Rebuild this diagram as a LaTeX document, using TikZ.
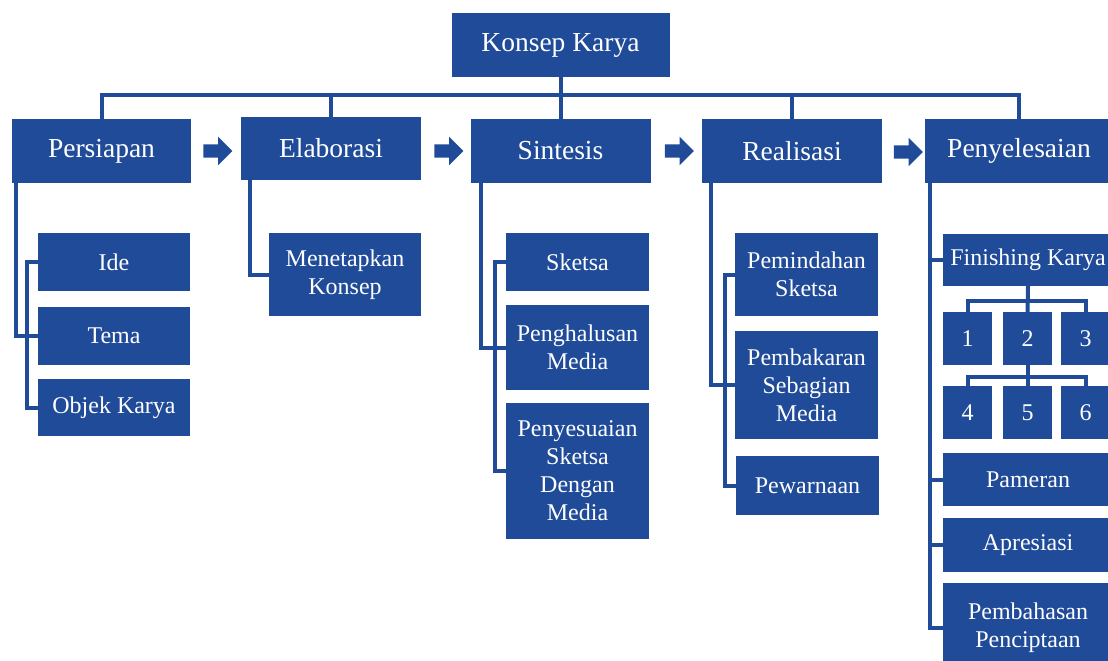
\documentclass[tikz,border=0pt]{standalone}
\usepackage{fontspec}
\setmainfont{Liberation Serif}
\usetikzlibrary{shapes.arrows}
\definecolor{boxblue}{HTML}{1F4B99}
\tikzset{
  box/.style={fill=boxblue, text=white, inner sep=0pt, align=center,
    font=\fontsize{24}{28}\selectfont},
  topbox/.style={box, font=\fontsize{27.5}{32}\selectfont},
  conn/.style={draw=boxblue, line width=4pt},
  flowarrow/.style={single arrow, fill=boxblue, inner sep=6.5pt,
    minimum height=29pt, minimum width=28pt, single arrow head extend=7.5pt},
}
\begin{document}
\begin{tikzpicture}[x=1pt,y=-1pt]
\useasboundingbox (0,0) rectangle (1108,661);
\clip (0,0) rectangle (1108,661);
% top level
\node[topbox, minimum width=218pt, minimum height=64pt] (konsep) at (560.5,45) {Konsep Karya};
\node[topbox, minimum width=179pt, minimum height=64pt] (persiapan) at (101.5,151) {Persiapan};
\node[topbox, minimum width=180pt, minimum height=63pt] (elaborasi) at (331,148.5) {Elaborasi};
\node[topbox, minimum width=180pt, minimum height=64pt] (sintesis) at (560.5,151) {Sintesis};
\node[topbox, minimum width=180pt, minimum height=64pt] (realisasi) at (792,151) {Realisasi};
\node[topbox, minimum width=188pt, minimum height=64pt] (penyelesaian) at (1019,151) {Penyelesaian};
% arrows
\node[flowarrow] (a1) at (214.5,151) {};
\node[flowarrow] (a2) at (445.5,151) {};
\node[flowarrow] (a3) at (676,151) {};
\node[flowarrow] (a4) at (905,152) {};
% persiapan children
\node[box, minimum width=152pt, minimum height=58pt] (ide) at (114,262) {Ide};
\node[box, minimum width=152pt, minimum height=58pt] (tema) at (114,336) {Tema};
\node[box, minimum width=152pt, minimum height=57pt] (objek) at (114,407.5) {Objek Karya};
% elaborasi child
\node[box, minimum width=152pt, minimum height=83pt] (menetapkan) at (345,274.5) {Menetapkan\\Konsep};
% sintesis children
\node[box, minimum width=143pt, minimum height=58pt] (sketsa) at (577.5,262) {Sketsa};
\node[box, minimum width=143pt, minimum height=85pt] (penghalusan) at (577.5,347.5) {Penghalusan\\Media};
\node[box, minimum width=143pt, minimum height=136pt] (penyesuaian) at (577.5,471) {Penyesuaian\\Sketsa\\Dengan\\Media};
% realisasi children
\node[box, minimum width=143pt, minimum height=83pt] (pemindahan) at (806.5,274.5) {Pemindahan\\Sketsa};
\node[box, minimum width=143pt, minimum height=108pt] (pembakaran) at (806.5,385) {Pembakaran\\Sebagian\\Media};
\node[box, minimum width=143pt, minimum height=59pt] (pewarnaan) at (807.5,485.5) {Pewarnaan};
% penyelesaian children
\node[box, minimum width=170pt, minimum height=52pt] (finishing) at (1028,260) {Finishing Karya};
\node[box, minimum width=49pt, minimum height=53pt] (n1) at (967.5,338.5) {1};
\node[box, minimum width=49pt, minimum height=53pt] (n2) at (1027.5,338.5) {2};
\node[box, minimum width=49pt, minimum height=53pt] (n3) at (1085.5,338.5) {3};
\node[box, minimum width=49pt, minimum height=53pt] (n4) at (967.5,412.5) {4};
\node[box, minimum width=49pt, minimum height=53pt] (n5) at (1027.5,412.5) {5};
\node[box, minimum width=49pt, minimum height=53pt] (n6) at (1085.5,412.5) {6};
\node[box, minimum width=170pt, minimum height=53pt] (pameran) at (1028,479.5) {Pameran};
\node[box, minimum width=170pt, minimum height=54pt] (apresiasi) at (1028,545) {Apresiasi};
\node[box, minimum width=170pt, minimum height=89pt] (pembahasan) at (1028,627.5) {Pembahasan\\Penciptaan};
% connectors: top bus
\coordinate (bus) at (0,95);
\draw[conn] (konsep.south) -- (sintesis.north);
\draw[conn] (persiapan.north) -- (persiapan.north |- bus) -- (penyelesaian.north |- bus) -- (penyelesaian.north);
\draw[conn] (elaborasi.north) -- (elaborasi.north |- bus);
\draw[conn] (realisasi.north) -- (realisasi.north |- bus);
% persiapan
\draw[conn] ([xshift=4pt]persiapan.south west) |- (tema.west);
\draw[conn] (ide.west) -- ++(-11,0) |- (objek.west);
% elaborasi
\draw[conn] ([xshift=9pt]elaborasi.south west) |- (menetapkan.west);
% sintesis
\draw[conn] ([xshift=11pt]sintesis.south west) |- (penghalusan.west);
\draw[conn] (sketsa.west) -- ++(-11,0) |- (penyesuaian.west);
% realisasi
\draw[conn] ([xshift=9pt]realisasi.south west) |- (pembakaran.west);
\draw[conn] (pemindahan.west) -- ++(-10,0) |- (pewarnaan.west);
% penyelesaian
\coordinate (ptrunk) at ([xshift=5pt]penyelesaian.south west);
\draw[conn] (ptrunk) |- (pembahasan.west);
\draw[conn] (finishing.west) -- (finishing.west -| ptrunk);
\draw[conn] (pameran.west) -- (pameran.west -| ptrunk);
\draw[conn] (apresiasi.west) -- (apresiasi.west -| ptrunk);
% finishing numbers
\draw[conn] (finishing.south) -- (n2.north);
\draw[conn] (n1.north) -- ++(0,-11) -| (n3.north);
\draw[conn] (n2.south) -- (n5.north);
\draw[conn] (n4.north) -- ++(0,-9) -| (n6.north);
\end{tikzpicture}
\end{document}
